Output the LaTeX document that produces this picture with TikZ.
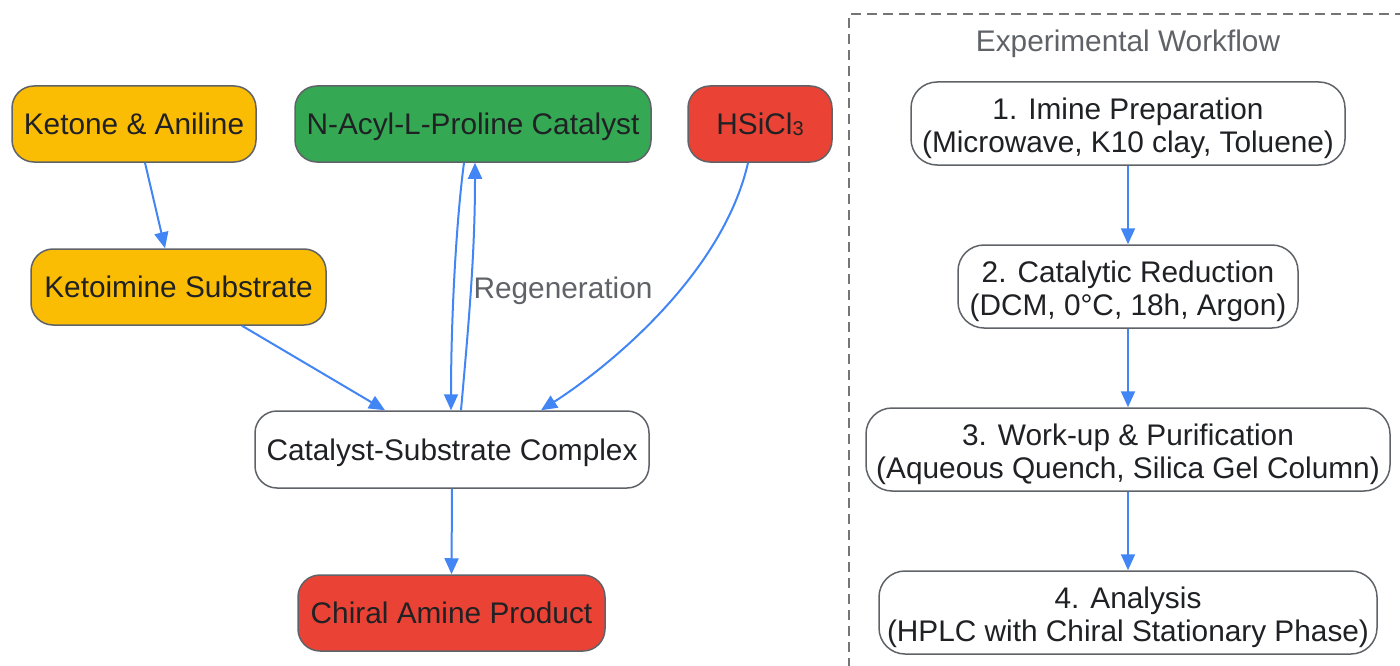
\documentclass[tikz,border=0pt]{standalone}
\usepackage{fontspec}
\setmainfont{Liberation Sans}
\usetikzlibrary{arrows.meta}
\definecolor{amber}{HTML}{FBBC04}
\definecolor{ggreen}{HTML}{34A853}
\definecolor{gred}{HTML}{EA4335}
\definecolor{bordergray}{HTML}{5F6368}
\definecolor{textc}{HTML}{202124}
\definecolor{gblue}{HTML}{4285F4}
\definecolor{dashgray}{HTML}{757575}
\tikzset{
  box/.style={draw=bordergray, line width=1.5pt, rounded corners=22pt, minimum height=76pt,
    text height=21.3pt, text depth=0pt,
    inner sep=0pt, text=textc, font=\fontsize{29.8}{33}\selectfont},
  wbox/.style={box, fill=white, minimum height=83pt, rounded corners=26pt},
  wtext/.style={align=center, inner sep=0pt, text=textc, font=\fontsize{29.8}{33}\selectfont},
  arr/.style={-{Triangle[length=16pt,width=14pt]}, draw=gblue, line width=2pt},
  lbl/.style={text=bordergray, font=\fontsize{29.8}{33}\selectfont, inner sep=0pt,
    text height=21.3pt, text depth=0pt}
}
\begin{document}
\begin{tikzpicture}[x=1pt,y=-1pt]
\useasboundingbox (0,0) rectangle (1400,666);
\begin{scope}
\clip (0,0) rectangle (1400,666);
\draw[dashgray, line width=1.5pt, dash pattern=on 10pt off 6pt] (849,700) -- (849,14) -- (1420,14);
\end{scope}
\node[lbl] (wf) at (1128,41) {Experimental Workflow};

% left graph
\node[box, fill=amber, minimum width=244pt] (ka) at (134,124) {Ketone \& Aniline};
\node[box, fill=ggreen, minimum width=356pt] (cat) at (473,124) {N-Acyl-L-Proline Catalyst};
\node[box, fill=gred, minimum width=144pt] (hs) at (760,124) {HSiCl\raisebox{-0.04em}{\fontsize{20}{20}\selectfont 3}};
\node[box, fill=amber, minimum width=295pt] (ks) at (178.5,287) {Ketoimine Substrate};
\node[box, fill=white, minimum width=394pt, minimum height=77pt] (cx) at (452,449.5) {Catalyst-Substrate Complex};
\node[box, fill=gred, minimum width=307pt] (pr) at (451.5,613) {Chiral Amine Product};

\draw[arr] ([xshift=11pt]ka.south) -- ([xshift=-13.5pt]ks.north);
\draw[arr] ([xshift=63.5pt]ks.south) -- ([xshift=-67pt]cx.north);
\draw[arr] ([xshift=-9pt]cat.south) .. controls +(-8,60) and +(0,-90) .. ([xshift=-1pt]cx.north);
\draw[arr] ([xshift=9pt]cx.north) .. controls +(8,-90) and +(0,90) .. ([xshift=2pt]cat.south);
\node[lbl] (regen) at (563,288) {Regeneration};
\draw[arr] ([xshift=-12pt]hs.south) .. controls +(-25,110) and +(70,-45) .. ([xshift=89pt]cx.north);
\draw[arr] (cx.south) -- (pr.north);

% workflow
\node[wbox, minimum width=434pt] (s1) at (1128,123.5) {};
\node[wbox, minimum width=340pt] (s2) at (1128,286.5) {};
\node[wbox, minimum width=524pt] (s3) at (1128,449.5) {};
\node[wbox, minimum width=498pt] (s4) at (1128,612.5) {};
\node[wtext] (t1) at ([yshift=-5pt]s1.center) {1. Imine Preparation\\(Microwave, K10 clay, Toluene)};
\node[wtext] (t2) at ([yshift=-5pt]s2.center) {2. Catalytic Reduction\\(DCM, 0°C, 18h, Argon)};
\node[wtext] (t3) at ([yshift=-5pt]s3.center) {3. Work-up \& Purification\\(Aqueous Quench, Silica Gel Column)};
\node[wtext] (t4) at ([yshift=-5pt]s4.center) {4. Analysis\\(HPLC with Chiral Stationary Phase)};
\draw[arr] (s1) -- (s2);
\draw[arr] (s2) -- (s3);
\draw[arr] (s3) -- (s4);
\end{tikzpicture}
\end{document}
